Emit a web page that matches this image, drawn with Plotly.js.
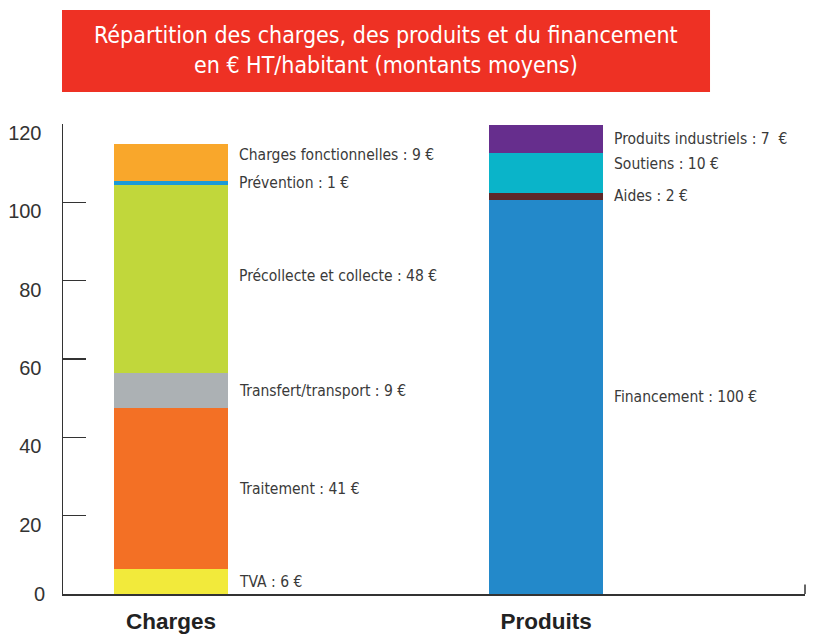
<!DOCTYPE html>
<html>
<head>
<meta charset="utf-8">
<script src="https://cdn.plot.ly/plotly-3.0.1.min.js"></script>
<style>html,body{margin:0;padding:0;background:#fff;}#chart{width:813px;height:634px;}</style>
</head>
<body>
<div id="chart"></div>
<script>
const categories = ['Charges', 'Produits'];

const chargesNames = ['TVA', 'Traitement', 'Transfert/transport', 'Précollecte et collecte', 'Prévention', 'Charges fonctionnelles'];
const chargesValues = [6.3, 41.2, 8.9, 48.1, 1.0, 9.3];
const chargesAmounts = ['6', '41', '9', '48', '1', '9'];

const produitsNames = ['Financement', 'Aides', 'Soutiens', 'Produits industriels'];
const produitsValues = [100.6, 1.8, 10.2, 7.2];
const produitsAmounts = ['100', '2', '10', '7\u00a0'];

const yTickVals = [0, 20, 40, 60, 80, 100, 120];
const yTickText = ['', '20', '40', '60', '80', '100', '120'];

const chargesColors = ['#F2EA3B', '#F37025', '#ACB1B4', '#C1D73B', '#1B9BD7', '#F9A72B'];
const produitsColors = ['#2389CA', '#5E2728', '#0AB4C9', '#662E8D'];
const chargesShift = [0, 0, 0, 3, 0, 8];
const produitsShift = [0, 0, 9, 0];

const labelFont = {family: 'DejaVu Sans Condensed, sans-serif', size: 15.5, color: '#3a3a3a'};
const barWidth = 0.304;

const traces = [];
const annotations = [];

function addStack(cat, names, values, amounts, colors, shifts) {
  let base = 0;
  values.forEach((v, i) => {
    traces.push({
      type: 'bar', x: [cat], y: [v], name: names[i],
      marker: {color: colors[i], line: {width: 0}},
      width: barWidth, hoverinfo: 'name+y', showlegend: false
    });
    annotations.push({
      xref: 'x', yref: 'y', x: categories.indexOf(cat) + barWidth / 2, y: base + v / 2,
      xanchor: 'left', yanchor: 'middle', xshift: 9, yshift: shifts[i],
      text: names[i] + ' : ' + amounts[i] + ' €', showarrow: false, font: labelFont
    });
    base += v;
  });
}
addStack(categories[0], chargesNames, chargesValues, chargesAmounts, chargesColors, chargesShift);
addStack(categories[1], produitsNames, produitsValues, produitsAmounts, produitsColors, produitsShift);

// "0" tick label (drawn separately, no vertical offset)
annotations.push({
  xref: 'paper', yref: 'y', x: 0, y: 0, xanchor: 'right', yanchor: 'middle', xshift: -16, yshift: 0,
  text: '0', showarrow: false, font: {family: 'Liberation Sans, Arial, sans-serif', size: 20, color: '#333'}
});

// Title
annotations.push({
  xref: 'paper', yref: 'paper', x: 0.435, y: 1.157, xanchor: 'center', yanchor: 'middle',
  text: 'Répartition des charges, des produits et du financement<br>en € HT/habitant (montants moyens)',
  showarrow: false, align: 'center',
  font: {family: 'DejaVu Sans Condensed, sans-serif', size: 23, color: '#ffffff'}
});

const layout = {
  width: 813, height: 634,
  margin: {l: 63, r: 8, t: 124, b: 40},
  paper_bgcolor: '#ffffff', plot_bgcolor: '#ffffff',
  barmode: 'stack',
  showlegend: false,
  xaxis: {
    type: 'category', range: [-0.288, 1.69], fixedrange: true,
    showline: true, linecolor: '#333', linewidth: 1.5, showgrid: false, zeroline: false,
    ticks: '', ticklabelstandoff: 6,
    tickfont: {family: 'Liberation Sans, Arial, sans-serif', size: 22.5, color: '#222', weight: 'bold'}
  },
  yaxis: {
    range: [0, 120], fixedrange: true,
    showline: true, linecolor: '#333', linewidth: 1.5, showgrid: false, zeroline: false,
    tickmode: 'array', tickvals: yTickVals, ticktext: yTickText,
    ticks: 'inside', ticklen: 23, tickwidth: 1.5, tickcolor: '#333',
    ticklabelshift: 9, ticklabelstandoff: 16,
    tickfont: {family: 'Liberation Sans, Arial, sans-serif', size: 20, color: '#333'}
  },
  shapes: [
    {type: 'rect', xref: 'paper', yref: 'paper', x0: -0.00135, x1: 0.872, y0: 1.068, y1: 1.2426,
     fillcolor: '#EE3124', line: {width: 0}, layer: 'below'},
    {type: 'line', xref: 'paper', yref: 'y', x0: 1, x1: 1, y0: 0, y1: 2.4, line: {color: '#333', width: 1.5}}
  ],
  annotations: annotations
};

Plotly.newPlot('chart', traces, layout, {displayModeBar: false, staticPlot: true});
</script>
</body>
</html>
